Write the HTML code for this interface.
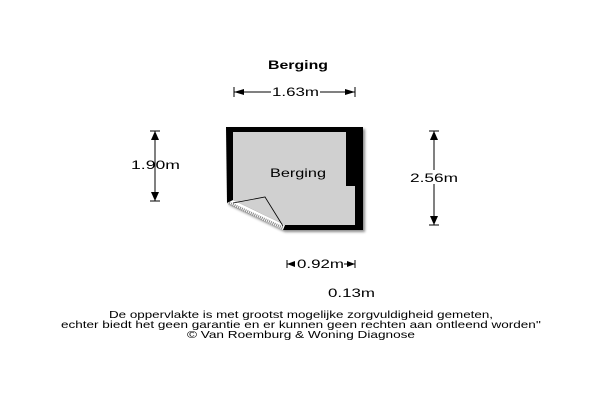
<!DOCTYPE html>
<html><head><style>
body{margin:0;background:#fff;}
svg{display:block;font-family:"Liberation Sans",sans-serif;}
</style></head><body>
<svg width="600" height="400" viewBox="0 0 600 400">
<defs>
<filter id="sh"><feDropShadow dx="2" dy="2" stdDeviation="1.2" flood-color="#000" flood-opacity="0.45"/></filter>
</defs>
<text x="268" y="69" font-size="12" font-weight="bold" textLength="60" lengthAdjust="spacingAndGlyphs">Berging</text>
<!-- 1.63 -->
<g stroke="#000" stroke-width="1">
<line x1="234" y1="92" x2="271" y2="92"/><line x1="320" y1="92" x2="355" y2="92"/>
<line x1="234" y1="87" x2="234" y2="97"/><line x1="355" y1="87" x2="355" y2="97"/>
</g>
<polygon points="234,92 244,89 244,95" fill="#000"/><polygon points="355,92 345,89 345,95" fill="#000"/>
<text x="272" y="96" font-size="12" textLength="47" lengthAdjust="spacingAndGlyphs">1.63m</text>
<!-- 1.90 -->
<g stroke="#000"><line x1="155" y1="131" x2="155" y2="201"/><line x1="150" y1="131" x2="160" y2="131"/><line x1="150" y1="201" x2="160" y2="201"/></g>
<polygon points="155,131 151,140 159,140" fill="#000"/><polygon points="155,201 151,192 159,192" fill="#000"/>
<text x="131" y="169" font-size="12" textLength="49" lengthAdjust="spacingAndGlyphs">1.90m</text>
<!-- 2.56 -->
<g stroke="#000"><line x1="434" y1="131" x2="434" y2="225"/><line x1="429" y1="131" x2="439" y2="131"/><line x1="429" y1="225" x2="439" y2="225"/></g>
<polygon points="434,131 430,140 438,140" fill="#000"/><polygon points="434,225 430,216 438,216" fill="#000"/>
<rect x="409" y="170" width="50" height="14" fill="#fff"/>
<text x="410" y="182" font-size="12" textLength="48" lengthAdjust="spacingAndGlyphs">2.56m</text>
<!-- room -->
<polygon points="226,127 363,127 363,230 283,230 227,203" fill="#000" filter="url(#sh)"/>
<polygon points="233,132 346,132 346,186 355,186 355,225 285,225 233,200" fill="#d0d0d0"/>
<polygon points="227,203 233,200 285,225 283,230" fill="#fff"/>
<line x1="229" y1="203" x2="283" y2="228" stroke="#888" stroke-width="3" stroke-dasharray="1,1"/>
<polyline points="233,203 265,197 283,226" fill="none" stroke="#000" stroke-width="0.8"/>
<text x="270" y="177" font-size="12" textLength="56" lengthAdjust="spacingAndGlyphs">Berging</text>
<!-- 0.92 -->
<g stroke="#000"><line x1="287" y1="264" x2="355" y2="264"/><line x1="287" y1="260" x2="287" y2="268"/><line x1="355" y1="260" x2="355" y2="268"/></g>
<rect x="294" y="257" width="50" height="14" fill="#fff"/>
<polygon points="287,264 295,261 295,267" fill="#000"/><polygon points="355,264 347,261 347,267" fill="#000"/>
<text x="297" y="268" font-size="12" textLength="47" lengthAdjust="spacingAndGlyphs">0.92m</text>
<text x="328" y="297" font-size="12" textLength="47" lengthAdjust="spacingAndGlyphs">0.13m</text>
<g font-size="10.5">
<text x="109" y="318" textLength="384" lengthAdjust="spacingAndGlyphs">De oppervlakte is met grootst mogelijke zorgvuldigheid gemeten,</text>
<text x="61" y="328" textLength="480" lengthAdjust="spacingAndGlyphs">echter biedt het geen garantie en er kunnen geen rechten aan ontleend worden''</text>
<text x="187" y="338" textLength="228" lengthAdjust="spacingAndGlyphs">© Van Roemburg &amp; Woning Diagnose</text>
</g>
</svg>
</body></html>
